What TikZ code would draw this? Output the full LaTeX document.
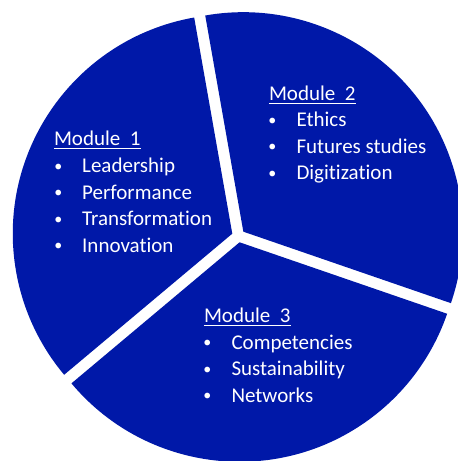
\documentclass[tikz,border=0pt]{standalone}
\usepackage{fontspec}
\setmainfont{Carlito}[Ligatures=NoCommon]
\definecolor{modblue}{RGB}{0,24,168}
\begin{document}
\begin{tikzpicture}[x=1pt,y=1pt,
  slice/.style={fill=modblue},
  txt/.style={inner sep=0pt,text=white,font=\fontsize{21}{24}\selectfont},
  head/.style={txt,anchor=base west},
  item/.style={txt,anchor=base west},
  bul/.style={inner sep=0pt,text=white,font=\fontsize{16}{18}\selectfont,anchor=base,yshift=1.5pt},
  uline/.style={white,line width=1.3pt}]
\useasboundingbox (0,0) rectangle (458,461);
\clip (0,0) rectangle (458,461);
\coordinate (c) at (238.4,225.1);
% slices
\fill[slice] (c) ++(160:6.5) coordinate (a1) -- ++(100:219.5) arc[start angle=100,end angle=220,radius=219.5] -- cycle;
\fill[slice] (c) ++(40.5:6.5) coordinate (a2) -- ++(-19:219.5) arc[start angle=-19,end angle=100,radius=219.5] -- cycle;
\fill[slice] (c) ++(280.5:6.5) coordinate (a3) -- ++(220:219.5) arc[start angle=220,end angle=341,radius=219.5] -- cycle;
% Module 1
\node[head] (h1) at (53.8,315) {Module\ \ 1};
\draw[uline] ([yshift=-2.7pt]h1.base west) -- ([yshift=-2.7pt]h1.base east);
\node[bul] (b11) at (58.3,288) {•};
\node[item] (i11) at (82,288) {Leadership};
\node[bul] (b12) at (58.3,261.5) {•};
\node[item] (i12) at (82,261.5) {Performance};
\node[bul] (b13) at (58.3,235) {•};
\node[item] (i13) at (82,235) {Transformation};
\node[bul] (b14) at (58.3,208.5) {•};
\node[item] (i14) at (82,208.5) {Innovation};
% Module 2
\node[head] (h2) at (268.8,360.5) {Module\ \ 2};
\draw[uline] ([yshift=-2.7pt]h2.base west) -- ([yshift=-2.7pt]h2.base east);
\node[bul] (b21) at (272.3,334) {•};
\node[item] (i21) at (296.3,334) {Ethics};
\node[bul] (b22) at (272.3,307.5) {•};
\node[item] (i22) at (296.3,307.5) {Futures studies};
\node[bul] (b23) at (272.3,281) {•};
\node[item] (i23) at (296.3,281) {Digitization};
% Module 3
\node[head] (h3) at (203.8,138) {Module\ \ 3};
\draw[uline] ([yshift=-2.7pt]h3.base west) -- ([yshift=-2.7pt]h3.base east);
\node[bul] (b31) at (207.3,111.5) {•};
\node[item] (i31) at (231.3,111.5) {Competencies};
\node[bul] (b32) at (207.3,85) {•};
\node[item] (i32) at (231.3,85) {Sustainability};
\node[bul] (b33) at (207.3,58.5) {•};
\node[item] (i33) at (231.3,58.5) {Networks};
\end{tikzpicture}
\end{document}
